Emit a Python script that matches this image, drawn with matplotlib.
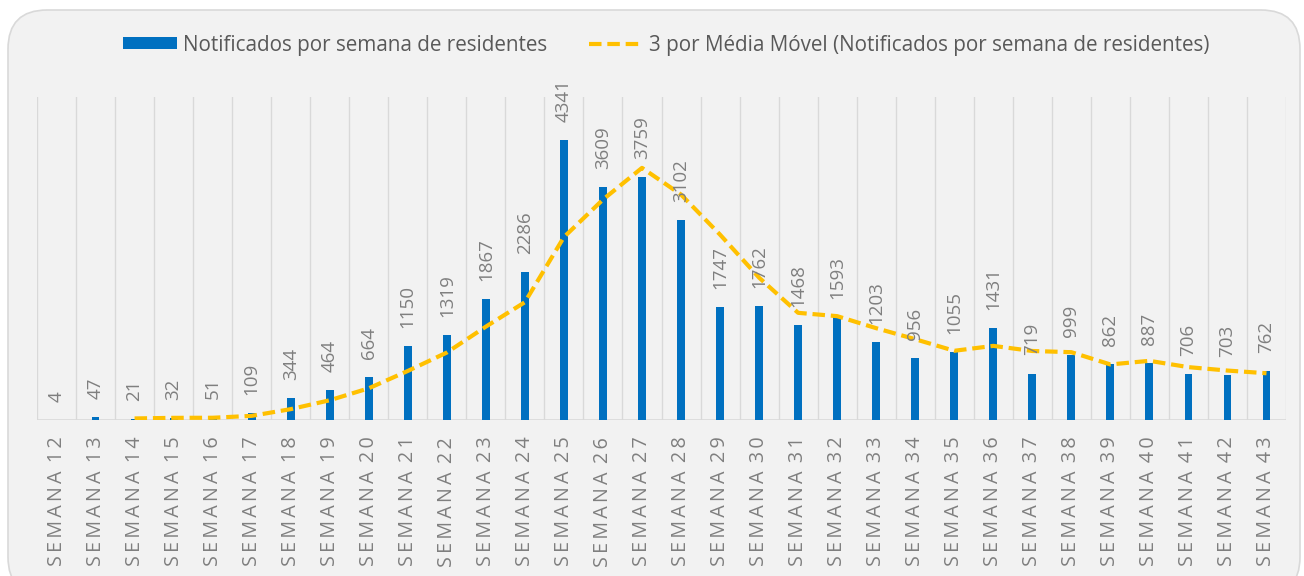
import matplotlib
matplotlib.use("Agg")
import matplotlib.pyplot as plt
from matplotlib.patches import FancyBboxPatch
from matplotlib.lines import Line2D
from matplotlib.patches import Patch

weeks = list(range(12, 44))
values = [4, 47, 21, 32, 51, 109, 344, 464, 664, 1150, 1319, 1867, 2286, 4341,
          3609, 3759, 3102, 1747, 1762, 1468, 1593, 1203, 956, 1055, 1431, 719,
          999, 862, 887, 706, 703, 762]
TS = "\u2009"
tick_labels = [TS.join("SEMANA") + TS + " " + TS.join(str(w)) for w in weeks]
bar_name = "Notificados por semana de residentes"
line_name = "3 por Média Móvel (Notificados por semana de residentes)"

# trailing 3-period moving average (starts at third point)
ma_x = list(range(2, len(values)))
ma_y = [(values[i - 2] + values[i - 1] + values[i]) / 3 for i in ma_x]

FONT = ["Open Sans", "DejaVu Sans"]
BLUE = "#0070C0"
GOLD = "#FFC000"
GRAY_TXT = "#7F7F7F"
DARK_TXT = "#595959"
GRID = "#D9D9D9"
DASH = (0, (3.0, 1.4))

fig = plt.figure(figsize=(13.04, 5.76), dpi=100)
fig.patch.set_facecolor("white")

W, H = 1304, 576
bg = FancyBboxPatch((8 / W, -20 / H), (1300 - 8) / W, (566 + 20) / H,
                    boxstyle="round,pad=0,rounding_size=0.03",
                    transform=fig.transFigure, facecolor="#F2F2F2",
                    edgecolor="#D9D9D9", linewidth=1.2, mutation_aspect=W / H,
                    zorder=-10)
fig.add_artist(bg)

ax = fig.add_axes([37 / W, 1 - 420 / H, (1286 - 37) / W, (420 - 97) / H])
ax.set_facecolor("none")
ax.set_zorder(5)
x = list(range(len(values)))
ax.bar(x, values, width=0.2, color=BLUE, zorder=2)
ax.plot(ma_x, ma_y, color=GOLD, linewidth=3, linestyle=DASH, zorder=3)

for xi, v in zip(x, values):
    ax.annotate(str(v), (xi, v), xytext=(0, 13), textcoords="offset points",
                rotation=90, ha="center", va="bottom", fontsize=13.5,
                color=GRAY_TXT, family=FONT, zorder=4)

ax.set_xlim(-0.5, len(values) - 0.5)
ax.set_ylim(0, 5000)
for b in [i - 0.5 for i in range(len(values) + 1)]:
    ax.axvline(b, color=GRID, linewidth=1, zorder=1)
ax.axhline(0, color=GRID, linewidth=1.2, zorder=1)
for s in ax.spines.values():
    s.set_visible(False)
ax.set_yticks([])
ax.set_xticks(x)
ax.set_xticklabels(tick_labels, rotation=90, fontsize=14.2, color=GRAY_TXT,
                   family=FONT)
ax.tick_params(axis="x", length=0, pad=12)

handles = [Patch(facecolor=BLUE, edgecolor="none"),
           Line2D([0], [0], color=GOLD, linewidth=3, linestyle=DASH)]
leg = fig.legend(handles, [bar_name, line_name], loc="center",
                 bbox_to_anchor=(666 / W, 1 - 45 / H), ncol=2, frameon=False,
                 prop={"family": FONT, "size": 14.9}, handlelength=2.6,
                 handletextpad=0.3, columnspacing=2.0, handleheight=0.55)
for t in leg.get_texts():
    t.set_color(DARK_TXT)

fig.savefig("out.png", dpi=100)
